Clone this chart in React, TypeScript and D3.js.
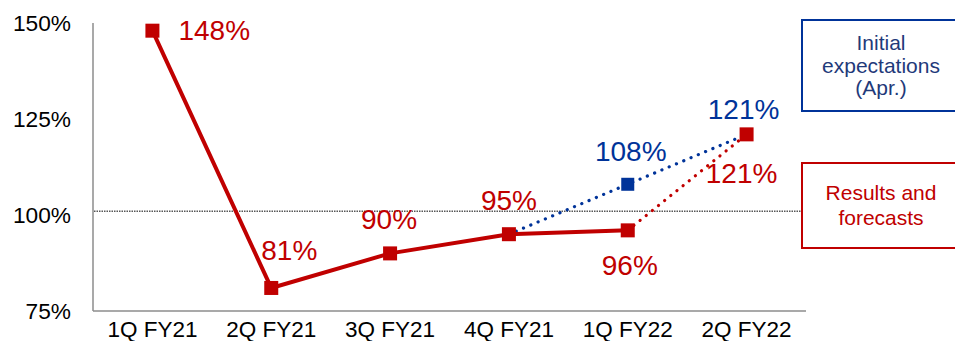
import React from "react";
import * as d3 from "d3";

// Quarters on the x axis
const quarters = ["1Q FY21", "2Q FY21", "3Q FY21", "4Q FY21", "1Q FY22", "2Q FY22"];

// Results (actuals) and the latest forecast, in %
const resultsActual = [148, 81, 90, 95, 96];
const resultsForecast = [96, 121]; // 1Q FY22 -> 2Q FY22

// Initial expectations (April), in %
const initialQuarters = ["4Q FY21", "1Q FY22", "2Q FY22"];
const initialValues = [95, 108, 121];

// Y axis ticks
const yTicks = [75, 100, 125, 150];
const referenceLevel = 101;

const legendInitial = ["Initial", "expectations", "(Apr.)"];
const legendResults = ["Results and", "forecasts"];

const W = 955;
const H = 341;
const RED = "#C00000";
const BLUE = "#003399";
const FONT = "'Liberation Sans', Arial, Helvetica, sans-serif";

export default function App() {
  const x = d3.scaleBand<string>().domain(quarters).range([93, 806]);
  const cx = (q: string) => (x(q) ?? 0) + x.bandwidth() / 2;
  const y = d3.scaleLinear().domain([75, 150]).range([311, 23]);

  const line = d3
    .line<[string, number]>()
    .x((d) => cx(d[0]))
    .y((d) => y(d[1]));

  const actualPts: [string, number][] = resultsActual.map((v, i) => [quarters[i], v]);
  const forecastPts: [string, number][] = resultsForecast.map((v, i) => [quarters[4 + i], v]);
  const initialPts: [string, number][] = initialValues.map((v, i) => [initialQuarters[i], v]);
  const redPts: [string, number][] = [...actualPts, forecastPts[1]];

  // label placement for each red point: anchor, dx, dy (baseline)
  const redLabelPlace: [string, number, number][] = [
    ["start", 26, 9.5],
    ["middle", 18, -28],
    ["middle", -1, -24],
    ["middle", 0, -24],
    ["middle", 2, 45],
    ["middle", -5, 49],
  ];
  const blueLabelPlace: [string, number, number][] = [
    ["middle", 0, 0],
    ["middle", 3, -23],
    ["middle", -3, -15],
  ];

  return (
    <svg
      width={W}
      height={H}
      style={{ position: "absolute", left: 0, top: 0, background: "#fff" }}
      fontFamily={FONT}
    >
      {/* axes */}
      <line x1={93} x2={93} y1={y(150)} y2={y(75)} stroke="#8c8c8c" strokeWidth={1.5} />
      <line x1={93} x2={806} y1={y(75)} y2={y(75)} stroke="#8c8c8c" strokeWidth={1.5} />
      {yTicks.map((t) => (
        <text key={t} x={71} y={y(t)} dy="0.36em" textAnchor="end" fontSize={22.7} fill="#000">
          {t}%
        </text>
      ))}
      {quarters.map((q) => (
        <text key={q} x={cx(q)} y={y(75) + 25.5} textAnchor="middle" fontSize={22.5} fill="#000">
          {q}
        </text>
      ))}

      {/* reference line */}
      <line
        x1={94}
        x2={806}
        y1={y(referenceLevel)}
        y2={y(referenceLevel)}
        stroke="#000"
        strokeWidth={1}
        strokeDasharray="1.5,1"
      />

      {/* initial expectations */}
      <path
        d={line(initialPts) ?? ""}
        fill="none"
        stroke={BLUE}
        strokeWidth={3.2}
        strokeLinecap="round"
        strokeDasharray="0.1,7.8"
      />
      {/* forecast */}
      <path
        d={line(forecastPts) ?? ""}
        fill="none"
        stroke={RED}
        strokeWidth={3.2}
        strokeLinecap="round"
        strokeDasharray="0.1,7.8"
      />
      {/* actual results */}
      <path d={line(actualPts) ?? ""} fill="none" stroke={RED} strokeWidth={4} strokeLinejoin="round" />

      {/* markers */}
      {initialPts.slice(1, 2).map(([q, v]) => (
        <rect key={q} x={cx(q) - 6.5} y={y(v) - 6.5} width={13} height={13} fill={BLUE} />
      ))}
      {redPts.map(([q, v]) => (
        <rect key={q} x={cx(q) - 7} y={y(v) - 7} width={14} height={14} fill={RED} />
      ))}

      {/* value labels */}
      {redPts.map(([q, v], i) => (
        <text
          key={"r" + q}
          x={cx(q) + redLabelPlace[i][1]}
          y={y(v) + redLabelPlace[i][2]}
          textAnchor={redLabelPlace[i][0] as any}
          fontSize={28}
          fill={RED}
        >
          {v}%
        </text>
      ))}
      {initialPts.slice(1).map(([q, v], j) => (
        <text
          key={"b" + q}
          x={cx(q) + blueLabelPlace[j + 1][1]}
          y={y(v) + blueLabelPlace[j + 1][2]}
          textAnchor="middle"
          fontSize={28}
          fill={BLUE}
        >
          {v}%
        </text>
      ))}

      {/* legend boxes */}
      <rect x={802} y={20} width={160} height={91} fill="#fff" stroke={BLUE} strokeWidth={2} />
      {legendInitial.map((t, i) => (
        <text key={t} x={881} y={50 + i * 22.5} textAnchor="middle" fontSize={21} fill="#1F3A7A">
          {t}
        </text>
      ))}
      <rect x={802} y={163} width={160} height={85} fill="#fff" stroke={RED} strokeWidth={2} />
      {legendResults.map((t, i) => (
        <text key={t} x={881} y={200 + i * 25} textAnchor="middle" fontSize={21} fill={RED}>
          {t}
        </text>
      ))}
    </svg>
  );
}
